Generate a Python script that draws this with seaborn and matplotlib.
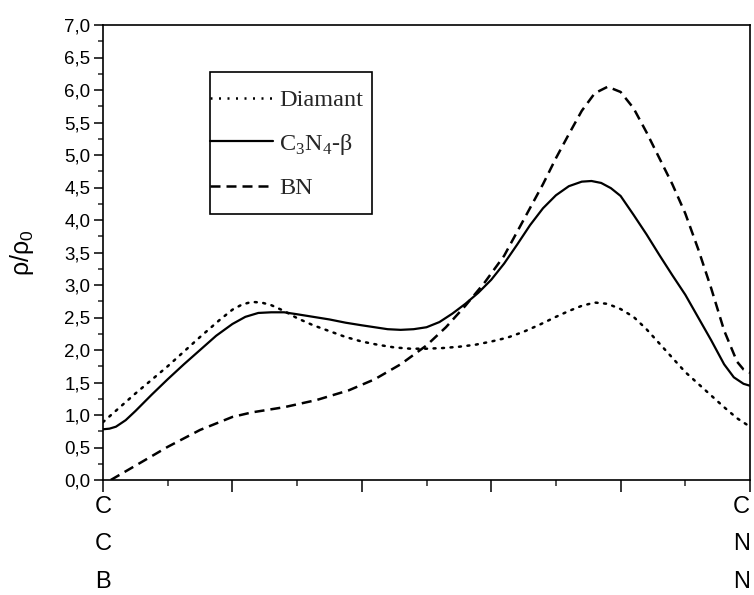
import matplotlib
matplotlib.use("Agg")
import matplotlib.pyplot as plt
import seaborn as sns
import pandas as pd
from matplotlib.ticker import MultipleLocator, FuncFormatter
from matplotlib.lines import Line2D
from matplotlib.patches import Rectangle

# ---- data ----
diamant_x = [0.0, 0.5, 1.0, 1.5, 1.8, 2.0, 2.15, 2.3, 2.45, 2.6, 2.8, 3.0, 3.25, 3.5, 3.75,
             4.0, 4.25, 4.5, 4.75, 5.0, 5.25, 5.5, 5.75, 6.0, 6.25, 6.5, 6.75, 7.0, 7.2,
             7.4, 7.6, 7.8, 8.0, 8.2, 8.4, 8.6, 8.8, 9.0, 9.2, 9.4, 9.6, 9.8, 10.0]
diamant_y = [0.89, 1.33, 1.75, 2.20, 2.46, 2.62, 2.70, 2.74, 2.73, 2.69, 2.60, 2.49, 2.38, 2.29, 2.20,
             2.13, 2.08, 2.04, 2.02, 2.02, 2.03, 2.05, 2.08, 2.13, 2.19, 2.28, 2.39, 2.51, 2.60,
             2.68, 2.73, 2.71, 2.63, 2.51, 2.32, 2.10, 1.88, 1.66, 1.48, 1.30, 1.12, 0.95, 0.82]

c3n4_x = [0.0, 0.1, 0.2, 0.35, 0.5, 0.75, 1.0, 1.25, 1.5, 1.75, 2.0, 2.2, 2.4, 2.6, 2.8, 3.0,
          3.25, 3.5, 3.75, 4.0, 4.2, 4.4, 4.6, 4.8, 5.0, 5.2, 5.4, 5.6, 5.8, 6.0, 6.2, 6.4,
          6.6, 6.8, 7.0, 7.2, 7.4, 7.55, 7.7, 7.85, 8.0, 8.2, 8.4, 8.6, 8.8, 9.0, 9.2, 9.4,
          9.6, 9.75, 9.9, 10.0]
c3n4_y = [0.78, 0.79, 0.82, 0.92, 1.06, 1.31, 1.55, 1.78, 2.00, 2.22, 2.40, 2.51, 2.57, 2.58, 2.58, 2.55,
          2.51, 2.47, 2.42, 2.38, 2.35, 2.32, 2.31, 2.32, 2.35, 2.43, 2.56, 2.71, 2.88, 3.08, 3.33, 3.62,
          3.92, 4.18, 4.38, 4.52, 4.59, 4.60, 4.57, 4.49, 4.37, 4.08, 3.78, 3.46, 3.15, 2.85, 2.50, 2.15,
          1.78, 1.58, 1.48, 1.45]

bn_x = [0.12, 0.5, 1.0, 1.5, 2.0, 2.3, 2.8, 3.3, 3.8, 4.2, 4.6, 5.0, 5.3, 5.6, 5.9, 6.2,
        6.5, 6.8, 7.0, 7.2, 7.4, 7.6, 7.8, 8.0, 8.2, 8.4, 8.6, 8.8, 9.0, 9.2, 9.4, 9.6,
        9.8, 9.9, 10.0]
bn_y = [0.0, 0.22, 0.51, 0.77, 0.97, 1.04, 1.12, 1.23, 1.38, 1.55, 1.78, 2.07, 2.35, 2.68, 3.04, 3.45,
        4.00, 4.55, 4.95, 5.32, 5.68, 5.95, 6.05, 5.97, 5.72, 5.35, 4.95, 4.55, 4.10, 3.55, 2.95, 2.30,
        1.82, 1.70, 1.65]

series_names = ["Diamant", "C$_\\mathregular{3}$N$_\\mathregular{4}$-β", "BN"]
x_tick_labels = ["C\nC\nB", "", "", "", "", "C\nN\nN"]
y_label = "ρ/ρ$_\\mathregular{0}$"

# ---- figure ----
sns.set_theme(style="white")
plt.rcParams["font.family"] = ["Liberation Sans", "DejaVu Sans"]

W, H = 754, 595
fig = plt.figure(figsize=(W / 100, H / 100), dpi=100)
ax = fig.add_axes([103 / W, 1 - 480 / H, (750 - 103) / W, (480 - 25) / H])

df_d = pd.DataFrame({"x": diamant_x, "y": diamant_y})
df_c = pd.DataFrame({"x": c3n4_x, "y": c3n4_y})
df_b = pd.DataFrame({"x": bn_x, "y": bn_y})

dot_style = (0, (0.8, 2.6))
dash_style = (0, (4.0, 2.4))

sns.lineplot(data=df_d, x="x", y="y", ax=ax, color="black", linewidth=1.8,
             linestyle=dot_style, sort=False, dash_capstyle="round")
sns.lineplot(data=df_c, x="x", y="y", ax=ax, color="black", linewidth=1.6, sort=False)
sns.lineplot(data=df_b, x="x", y="y", ax=ax, color="black", linewidth=1.8,
             linestyle=dash_style, sort=False)

ax.set_xlim(0, 10)
ax.set_ylim(0, 7)

for s in ax.spines.values():
    s.set_color("black")
    s.set_linewidth(1.2)

ax.yaxis.set_major_locator(MultipleLocator(0.5))
ax.yaxis.set_minor_locator(MultipleLocator(0.25))
ax.yaxis.set_major_formatter(FuncFormatter(lambda v, p: f"{v:.1f}".replace(".", ",")))
ax.set_xticks([0, 2, 4, 6, 8, 10])
ax.set_xticks([1, 3, 5, 7, 9], minor=True)
ax.set_xticklabels(x_tick_labels, fontsize=17, linespacing=1.9, va="top")
ax.get_xticklabels()[-1].set_horizontalalignment("right")

ax.tick_params(axis="y", which="major", direction="out", length=6.5, width=1.1,
               labelsize=13.5, pad=2.5, left=True, colors="black")
ax.tick_params(axis="y", which="minor", direction="out", length=3.6, width=1.1, left=True)
ax.tick_params(axis="x", which="major", direction="out", length=8.5, width=1.1,
               pad=3, bottom=True, colors="black")
ax.tick_params(axis="x", which="minor", direction="out", length=4.5, width=1.1, bottom=True)

ax.set_xlabel("")
ax.set_ylabel(y_label, fontsize=18, color="black")
ax.yaxis.set_label_coords((36 - 103) / 647, 0.50)

handles = [
    Line2D([], [], color="black", linewidth=1.8, linestyle=dot_style),
    Line2D([], [], color="black", linewidth=1.6),
    Line2D([], [], color="black", linewidth=1.8, linestyle=dash_style),
]
leg = ax.legend(handles, series_names, loc="upper left",
                bbox_to_anchor=(210 / W, 1 - 89 / H), bbox_transform=fig.transFigure,
                prop={"family": "Liberation Serif", "size": 17.5},
                frameon=False, borderpad=0, borderaxespad=0,
                handlelength=2.6, handletextpad=0.25, labelspacing=0.85)

# legend frame (drawn separately so the handles can touch its left edge)
fig.patches.append(Rectangle((210 / W, 1 - 214 / H), (372 - 210) / W, (214 - 72) / H,
                             transform=fig.transFigure, fill=False, edgecolor="black",
                             linewidth=1.2, zorder=5))

fig.savefig("out.png", dpi=100, facecolor="white")
